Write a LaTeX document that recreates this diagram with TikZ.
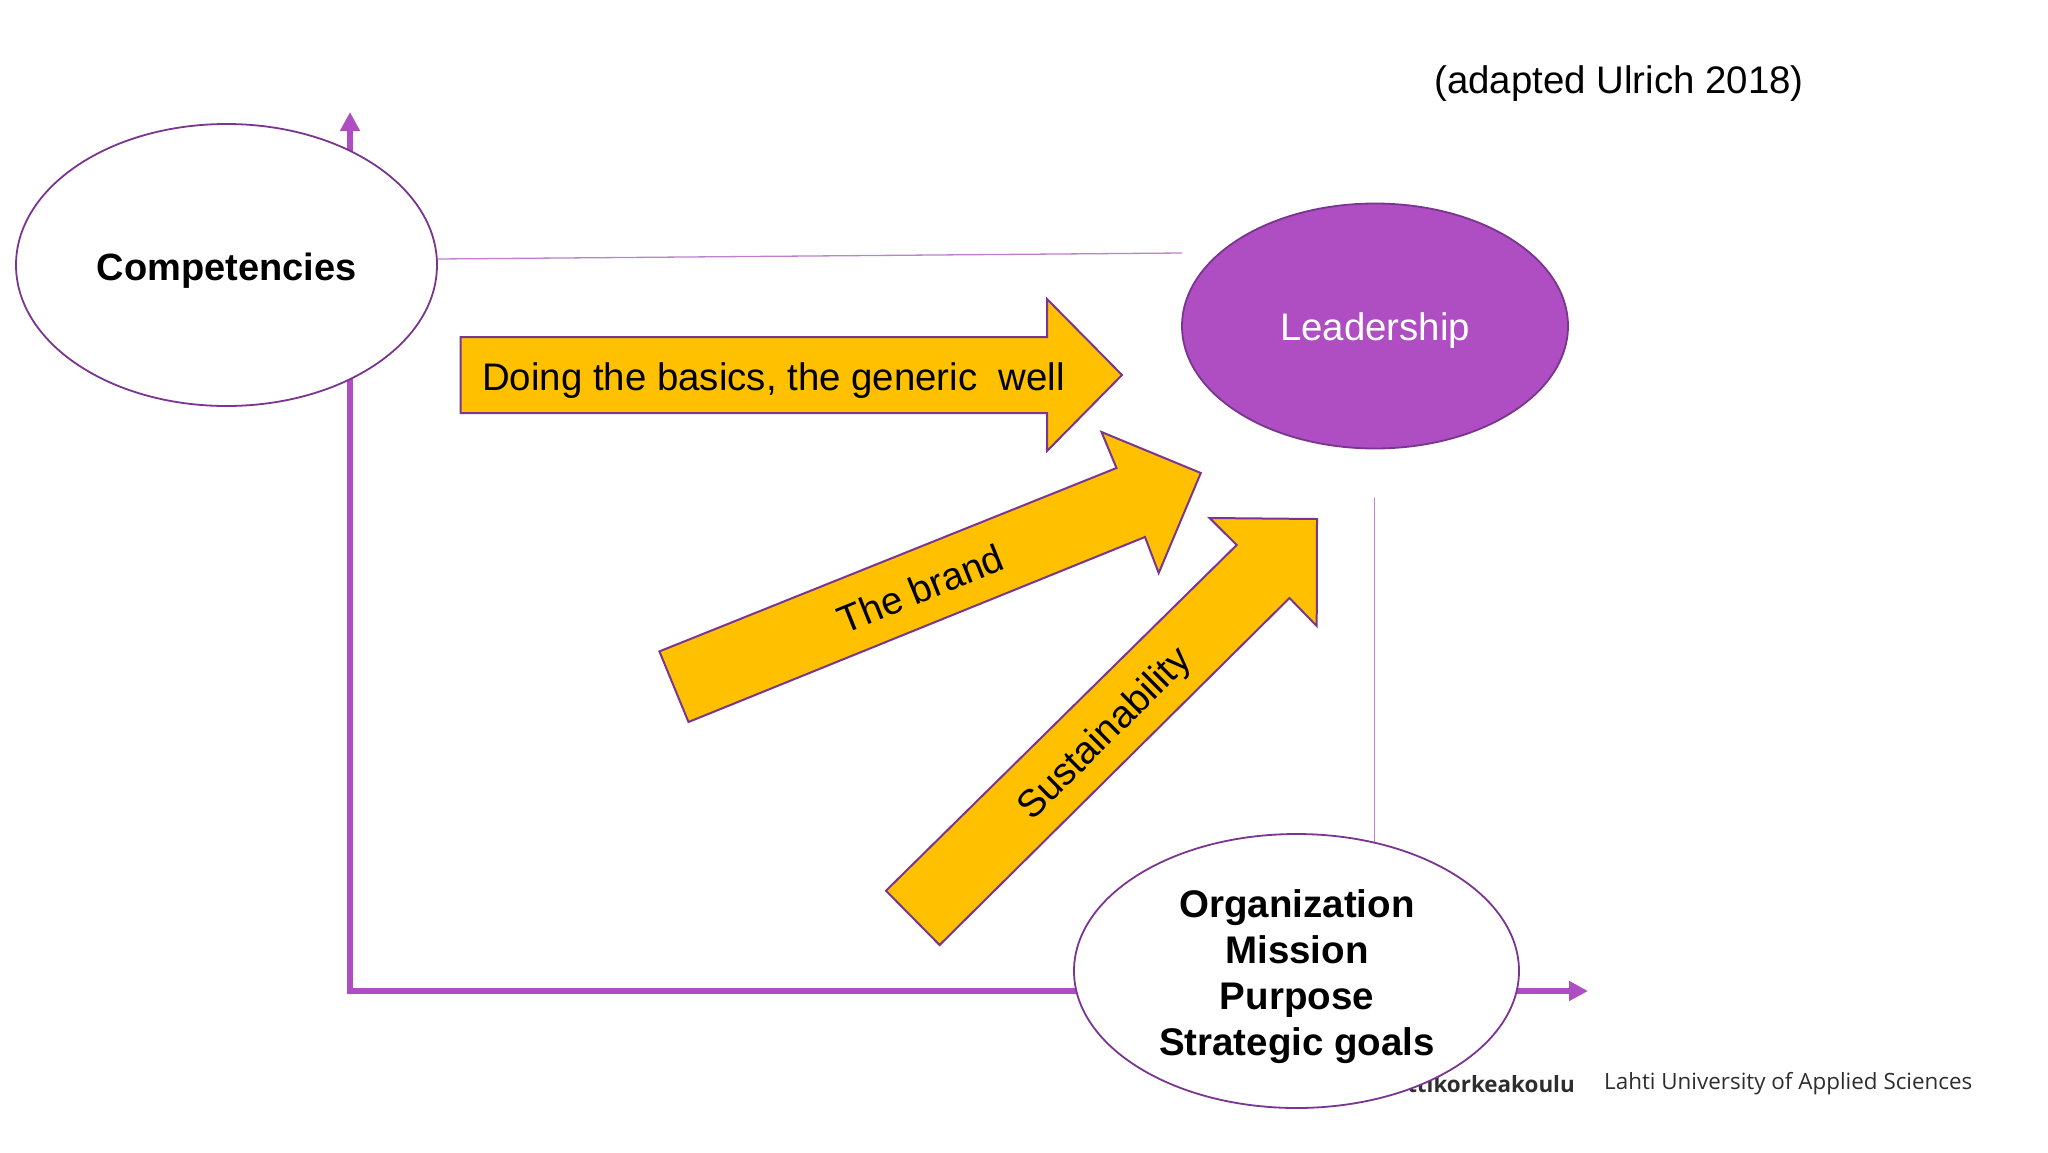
\documentclass[tikz,border=0pt]{standalone}
\usepackage{fontspec}
\setmainfont{Liberation Sans}
\newfontfamily\footfont{Open Sans}
\usetikzlibrary{shapes.geometric,arrows.meta}
\definecolor{lilac}{HTML}{AF4EC2}
\definecolor{edgepurple}{HTML}{7A3590}
\definecolor{thinlilac}{HTML}{C080D0}
\definecolor{amber}{HTML}{FFC000}
\tikzset{
  axisline/.style={draw=lilac,line width=6.5pt,line join=miter,{Triangle[length=19pt,width=19pt]}-{Triangle[length=19pt,width=19pt]}},
  thinline/.style={draw=thinlilac,line width=1.3pt},
  oval/.style={ellipse,draw=edgepurple,line width=1.8pt,fill=white,inner sep=0pt,align=center,font=\fontsize{38.5}{46}\selectfont\bfseries},
  bigarrow/.style={draw=edgepurple,line width=2pt,fill=amber,line join=miter},
  arrowtext/.style={inner sep=0pt,font=\fontsize{38.4}{46}\selectfont},
  foot/.style={inner sep=0pt,text=black!82,font=\footfont\fontsize{22.4}{26}\selectfont}
}
\begin{document}
\begin{tikzpicture}[x=1pt,y=-1pt]
\useasboundingbox (0,0) rectangle (2048,1152);
\fill[white] (0,0) rectangle (2048,1152);
\node[arrowtext,anchor=center] (source) at (1619,84) {(adapted Ulrich 2018)};
\coordinate (axisorigin) at (350,991);
\coordinate (axistop) at (350,112);
\coordinate (axisright) at (1588,991);
\draw[axisline] (axistop) -- (axisorigin) -- (axisright);
\node[foot,anchor=east] (schoolA) at (1575,1084) {\bfseries ttikorkeakoulu};
\node[foot,anchor=west] (schoolB) at (1604,1084) {Lahti University of Applied Sciences};
\coordinate (hlineA) at (437,259);
\coordinate (hlineB) at (1182,253);
\draw[thinline] (hlineA) -- (hlineB);
\coordinate (vlineA) at (1374.5,498);
\coordinate (vlineB) at (1374.5,845);
\draw[thinline] (vlineA) -- (vlineB);
\node[oval,minimum width=421pt,minimum height=282pt] (comp) at (226.5,265) {};
\node[inner sep=0pt,font=\fontsize{38}{46}\selectfont\bfseries] (comptext) at (226.5,271) {Competencies};
\node[oval,draw=edgepurple,fill=lilac,minimum width=386pt,minimum height=245pt] (lead) at (1375,326) {};
\node[inner sep=0pt,text=white,font=\fontsize{38.4}{46}\selectfont] (leadtext) at (1375,331) {Leadership};
\node[oval,minimum width=445pt,minimum height=274pt] (org) at (1296.5,971) {};
\node[inner sep=0pt,align=center,font=\fontsize{38.5}{46}\selectfont\bfseries] (orgtext) at (1297,977) {Organization\\Mission\\Purpose\\Strategic goals};
\draw[bigarrow] (460.5,337) -- (1047,337) -- (1047,299) -- (1122,375) -- (1047,451) -- (1047,413) -- (460.5,413) -- cycle;
\node[arrowtext,anchor=west] (basics) at (482,381) {Doing the basics, the generic\ \ well};
\draw[bigarrow] (659.4,651.4) -- (1116.5,468) -- (1101.5,432) -- (1200.8,473) -- (1158.7,573) -- (1145,537) -- (688.5,722) -- cycle;
\node[arrowtext,rotate=22] (brand) at (920.5,588.5) {The brand};
\draw[bigarrow] (886,890.7) -- (1236.7,545) -- (1209.6,518) -- (1317,519) -- (1316.7,626) -- (1289.5,598) -- (939.6,945) -- cycle;
\node[arrowtext,rotate=44.8] (sustain) at (1105.5,735) {Sustainability};
\end{tikzpicture}
\end{document}
